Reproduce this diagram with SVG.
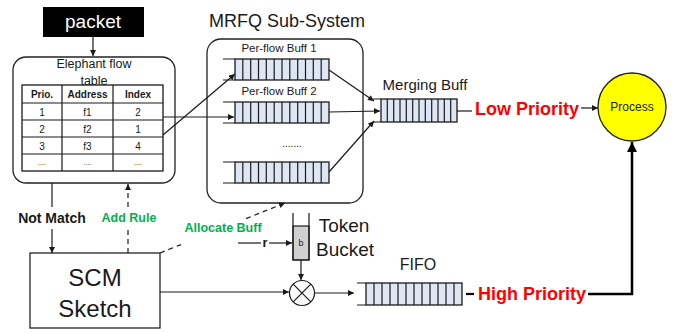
<svg xmlns="http://www.w3.org/2000/svg" width="675" height="333" viewBox="0 0 675 333">
<style>
text{font-family:"Liberation Sans",Arial,sans-serif;fill:#1a1a1a;text-anchor:middle;dominant-baseline:central}
.b{font-weight:bold}
.g{fill:#00b050;font-weight:bold}
.red{fill:#ff0000;font-weight:bold}
.ln{stroke:#1a1a1a;stroke-width:1.2;fill:none}
.dash{stroke:#1a1a1a;stroke-width:1.2;fill:none;stroke-dasharray:5,4}
.q{fill:#dde6f2;stroke:#1a1a1a;stroke-width:1.3}
.qd{stroke:#1a1a1a;stroke-width:1.2;fill:none}
.box{fill:#fff;stroke:#222;stroke-width:1.3}
</style>
<defs>
<marker id="ah" viewBox="0 0 10 10" refX="10" refY="5" markerWidth="7" markerHeight="6" markerUnits="userSpaceOnUse" orient="auto"><path d="M0,0 L10,5 L0,10 z" fill="#1a1a1a"/></marker>
<marker id="ahb" viewBox="0 0 10 10" refX="10" refY="5" markerWidth="10" markerHeight="10" markerUnits="userSpaceOnUse" orient="auto"><path d="M0,0 L10,5 L0,10 z" fill="#000"/></marker>
</defs>

<g id="packet">
<rect x="43" y="7" width="101" height="30" fill="#000"/>
<text x="93" y="21" style="fill:#fff;font-size:19px">packet</text>
</g>

<g id="elephant-table">
<rect class="box" x="13" y="57" width="162" height="126" rx="13"/>
<text x="94" y="64" style="font-size:12.5px">Elephant flow</text>
<text x="94" y="81" style="font-size:12.5px">table</text>
<rect x="22" y="85" width="141" height="86" fill="#fff" stroke="#1a1a1a" stroke-width="1.3"/>
<path class="ln" d="M62,85V171M113,85V171M22,103H163M22,120H163M22,137H163M22,154H163"/>
<text class="b" x="42" y="94" style="font-size:10px">Prio.</text>
<text class="b" x="87.5" y="94" style="font-size:10px">Address</text>
<text class="b" x="138" y="94" style="font-size:10px">Index</text>
<text x="42" y="112" style="font-size:10px">1</text>
<text x="87.5" y="112" style="font-size:10px">f1</text>
<text x="138" y="112" style="font-size:10px">2</text>
<text x="42" y="129" style="font-size:10px">2</text>
<text x="87.5" y="129" style="font-size:10px">f2</text>
<text x="138" y="129" style="font-size:10px">1</text>
<text x="42" y="146" style="font-size:10px">3</text>
<text x="87.5" y="146" style="font-size:10px">f3</text>
<text x="138" y="146" style="font-size:10px">4</text>
<text x="42" y="162" style="font-size:7px">....</text>
<text x="87.5" y="162" style="font-size:7px">....</text>
<text x="138" y="162" style="font-size:7px">....</text>
</g>

<g id="mrfq">
<text x="287" y="21" style="font-size:18px">MRFQ Sub-System</text>
<rect class="box" x="207" y="39" width="156" height="164" rx="14"/>
<text x="279" y="48" style="font-size:11.5px">Per-flow Buff 1</text>
<text x="279" y="91" style="font-size:11.5px">Per-flow Buff 2</text>
<text x="292" y="143" style="font-size:10px">.......</text>
</g>

<g id="buff1">
<rect class="q" x="235" y="59" width="94" height="21"/>
<path class="qd" d="M223,59H235M223,80H235M242.8,59V80M250.7,59V80M258.5,59V80M266.3,59V80M274.2,59V80M282,59V80M289.8,59V80M297.7,59V80M305.5,59V80M313.3,59V80M321.2,59V80"/>
</g>
<g id="buff2">
<rect class="q" x="235" y="102" width="94" height="21"/>
<path class="qd" d="M223,102H235M223,123H235M242.8,102V123M250.7,102V123M258.5,102V123M266.3,102V123M274.2,102V123M282,102V123M289.8,102V123M297.7,102V123M305.5,102V123M313.3,102V123M321.2,102V123"/>
</g>
<g id="buff3">
<rect class="q" x="235" y="162" width="94" height="21"/>
<path class="qd" d="M223,162H235M223,183H235M242.8,162V183M250.7,162V183M258.5,162V183M266.3,162V183M274.2,162V183M282,162V183M289.8,162V183M297.7,162V183M305.5,162V183M313.3,162V183M321.2,162V183"/>
</g>

<g id="merging-buff">
<text x="425" y="84" style="font-size:15px">Merging Buff</text>
<rect class="q" x="381" y="99" width="76" height="23"/>
<path class="qd" d="M373,99H381M373,122H381M387.3,99V122M393.7,99V122M400,99V122M406.3,99V122M412.7,99V122M419,99V122M425.3,99V122M431.7,99V122M438,99V122M444.3,99V122M450.7,99V122"/>
</g>

<g id="low-priority">
<text class="red" x="527" y="109" style="font-size:18px">Low Priority</text>
</g>

<g id="process">
<circle cx="632" cy="107" r="34" fill="#ffff00" stroke="#222" stroke-width="1.3"/>
<text x="632" y="107" style="font-size:12px">Process</text>
</g>

<g id="scm">
<rect class="box" x="30" y="253" width="130" height="75"/>
<text x="95" y="277" style="font-size:24px">SCM</text>
<text x="95" y="308" style="font-size:24px">Sketch</text>
</g>

<g id="token-bucket">
<rect x="293" y="226" width="16" height="34" fill="#d0d0d0" stroke="#1a1a1a" stroke-width="1.2"/>
<path class="ln" d="M293,213V260H309V213"/>
<text x="301" y="243" style="font-size:9px">b</text>
<text x="344" y="225" style="font-size:19px">Token</text>
<text x="345" y="249" style="font-size:19px">Bucket</text>
</g>

<g id="mux">
<circle cx="302" cy="293" r="12.5" fill="#fff" stroke="#1a1a1a" stroke-width="1.2"/>
<path class="ln" d="M293.2,284.2L310.8,301.8M310.8,284.2L293.2,301.8"/>
</g>

<g id="fifo">
<text x="418" y="264" style="font-size:16px">FIFO</text>
<rect class="q" x="366" y="283" width="96" height="22"/>
<path class="qd" d="M357,283H366M357,305H366M374,283V305M382,283V305M390,283V305M398,283V305M406,283V305M414,283V305M422,283V305M430,283V305M438,283V305M446,283V305M454,283V305"/>
</g>

<g id="high-priority">
<text class="red" x="532" y="294" style="font-size:18px">High Priority</text>
</g>

<g id="connectors">
<line class="ln" x1="93" y1="37" x2="93" y2="56" marker-end="url(#ah)"/>
<line class="ln" x1="163" y1="117" x2="234" y2="117" marker-end="url(#ah)"/>
<line class="ln" x1="163" y1="135" x2="235" y2="74" marker-end="url(#ah)"/>
<line class="ln" x1="329" y1="70" x2="374" y2="101" marker-end="url(#ah)"/>
<line class="ln" x1="329" y1="112" x2="380" y2="111" marker-end="url(#ah)"/>
<line class="ln" x1="329" y1="172" x2="374" y2="121" marker-end="url(#ah)"/>
<line class="ln" x1="457" y1="111" x2="472" y2="111"/>
<line class="ln" x1="581" y1="108" x2="598" y2="108" marker-end="url(#ah)"/>
<line class="ln" x1="52" y1="183" x2="52" y2="207"/>
<line class="ln" x1="52" y1="229" x2="52" y2="253" marker-end="url(#ah)"/>
<text class="b" x="52" y="218" style="font-size:14px">Not Match</text>
<line class="dash" x1="128" y1="253" x2="128" y2="229"/>
<line class="dash" x1="128" y1="207" x2="128" y2="184" marker-end="url(#ah)"/>
<text class="g" x="129" y="218" style="font-size:12.5px">Add Rule</text>
<line class="dash" x1="160" y1="253" x2="181" y2="244.6"/>
<line class="dash" x1="246" y1="218.6" x2="285" y2="203" marker-end="url(#ah)"/>
<text class="g" x="223" y="228" style="font-size:12.5px">Allocate Buff</text>
<line class="ln" x1="238" y1="243" x2="261" y2="243"/>
<line class="ln" x1="269" y1="243" x2="292" y2="243" marker-end="url(#ah)"/>
<text class="b" x="265" y="242" style="font-size:13px">r</text>
<line class="ln" x1="301" y1="260" x2="301" y2="280" marker-end="url(#ah)"/>
<line class="ln" x1="160" y1="292" x2="289" y2="292" marker-end="url(#ah)"/>
<line class="ln" x1="315" y1="293" x2="354" y2="293" marker-end="url(#ah)"/>
<line x1="466" y1="294" x2="474" y2="294" stroke="#000" stroke-width="2.2"/>
<path d="M588,294H632V142" fill="none" stroke="#000" stroke-width="2.5" marker-end="url(#ahb)"/>
</g>
</svg>
